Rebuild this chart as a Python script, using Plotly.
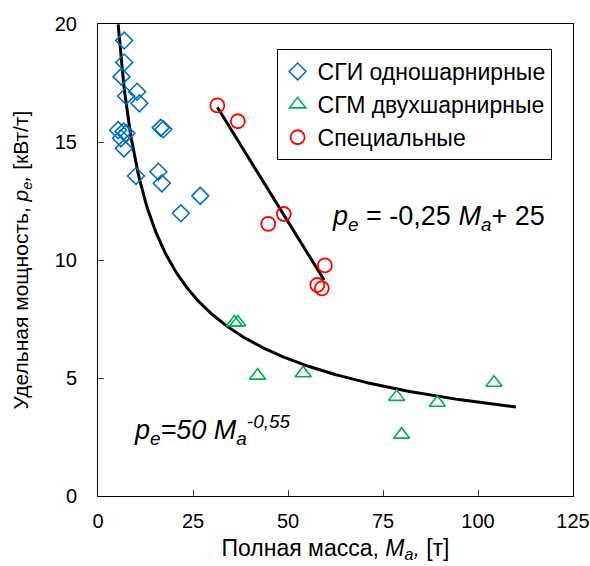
import numpy as np
import plotly.graph_objects as go

# СГИ одношарнирные (blue diamonds)
sgi_x = [6.9, 6.9, 6.2, 7.4, 10.3, 10.9, 5.3, 6.7, 7.5, 6.05, 6.8, 16.5, 17.2, 10.0, 15.9, 16.8, 26.9, 21.8]
sgi_y = [19.3, 18.37, 17.77, 16.95, 17.13, 16.64, 15.5, 15.44, 15.37, 15.16, 14.73, 15.6, 15.54, 13.56, 13.74, 13.25, 12.72, 11.98]

# СГМ двухшарнирные (green triangles)
sgm_x = [35.9, 36.8, 42.0, 54.0, 78.6, 89.3, 104.2, 79.9]
sgm_y = [7.35, 7.35, 5.1, 5.2, 4.2, 3.95, 4.8, 2.6]

# Специальные (red circles)
spec_x = [31.4, 36.8, 48.9, 44.8, 59.7, 57.7, 58.9]
spec_y = [16.55, 15.88, 11.95, 11.53, 9.77, 8.94, 8.8]

# linear trend line as drawn
lin_x = [31.4, 59.5]
lin_y = [16.47, 9.15]

# power trend pe = 50 * Ma^-0.55
pow_a = 50
pow_b = -0.55
pow_x = np.linspace(5.3, 110, 300)
pow_y = pow_a * pow_x ** pow_b

x_ticks = [0, 25, 50, 75, 100, 125]
y_ticks = [0, 5, 10, 15, 20]

FONT = "Liberation Sans, Arial, sans-serif"

fig = go.Figure()
fig.add_trace(go.Scatter(x=pow_x, y=pow_y, mode="lines",
                         line=dict(color="black", width=3), showlegend=False))
fig.add_trace(go.Scatter(x=lin_x, y=lin_y, mode="lines",
                         line=dict(color="black", width=3), showlegend=False))
fig.add_trace(go.Scatter(x=sgi_x, y=sgi_y, mode="markers", name="СГИ одношарнирные",
                         marker=dict(symbol="diamond-open", size=13, color="#0070C0",
                                     line=dict(width=1.6, color="#0070C0"))))
fig.add_trace(go.Scatter(x=sgm_x, y=sgm_y, mode="markers", name="СГМ двухшарнирные",
                         marker=dict(symbol="triangle-up-open", size=14, color="#00B050",
                                     line=dict(width=1.6, color="#00B050"))))
fig.add_trace(go.Scatter(x=spec_x, y=spec_y, mode="markers", name="Специальные",
                         marker=dict(symbol="circle-open", size=14, color="#FF0000",
                                     line=dict(width=1.8, color="#FF0000"))))

fig.add_annotation(x=89.7, y=11.8, xref="x", yref="y", showarrow=False,
                   text="<i>p<sub>e</sub></i> = -0,25 <i>M<sub>a</sub></i>+ 25",
                   font=dict(family=FONT, size=27, color="black"))
fig.add_annotation(x=30, y=2.8, xref="x", yref="y", showarrow=False,
                   text="<i>p<sub>e</sub>=50 M<sub>a</sub><sup>-0,55</sup></i>",
                   font=dict(family=FONT, size=27, color="black"))

fig.update_layout(
    width=590, height=566,
    margin=dict(l=98, r=17, t=24, b=70, autoexpand=False),
    plot_bgcolor="white", paper_bgcolor="white",
    font=dict(family=FONT, size=20, color="black"),
    legend=dict(x=0.376, y=0.947, xanchor="left", yanchor="top",
                bordercolor="black", borderwidth=1, bgcolor="white",
                font=dict(family=FONT, size=23), itemwidth=30,
                tracegroupgap=0),
    xaxis=dict(range=[0, 125], tickvals=x_ticks, ticks="inside", ticklen=6,
               ticklabelstandoff=7, ticklabeloverflow="allow", automargin=False,
               showline=True, linecolor="black", linewidth=1, mirror=True,
               showgrid=False, zeroline=False,
               title=dict(text="Полная масса, <i>M<sub>a</sub>,</i> [т]", font=dict(size=23), standoff=8)),
    yaxis=dict(range=[0, 20], tickvals=y_ticks, ticks="inside", ticklen=6,
               ticklabelstandoff=16, ticklabeloverflow="allow", automargin=False,
               showline=True, linecolor="black", linewidth=1, mirror=True,
               showgrid=False, zeroline=False,
               title=dict(text="Удельная мощность, <i>p<sub>e</sub>,</i> [кВт/т]", font=dict(size=21), standoff=20)),
)

fig.write_html("out.html",
               config={"displayModeBar": False},
               post_script="document.body.style.margin='0';document.body.style.overflow='hidden';")
